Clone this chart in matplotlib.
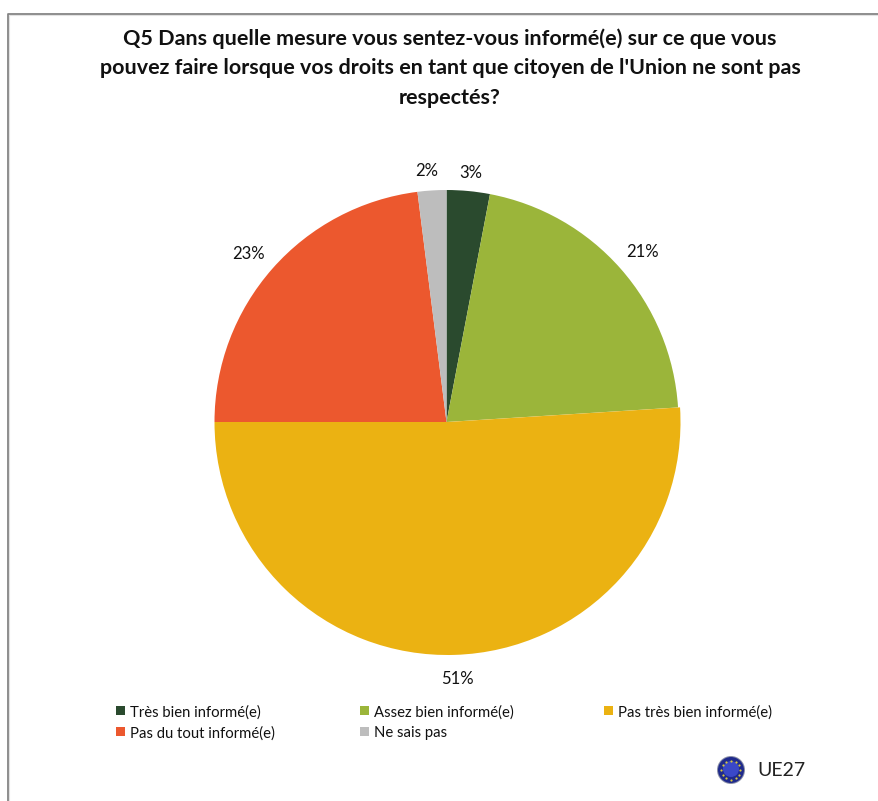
import matplotlib
matplotlib.use("Agg")
import matplotlib.pyplot as plt
from matplotlib.patches import Circle, Rectangle
import numpy as np

categories = ["Très bien informé(e)", "Assez bien informé(e)", "Pas très bien informé(e)",
              "Pas du tout informé(e)", "Ne sais pas"]
values = [3, 21, 51, 23, 2]
labels = ["3%", "21%", "51%", "23%", "2%"]
colors = ["#2A4A2E", "#9BB53A", "#EBB212", "#EC582E", "#BDBDBD"]
title = ["Q5 Dans quelle mesure vous sentez-vous informé(e) sur ce que vous",
         "pouvez faire lorsque vos droits en tant que citoyen de l'Union ne sont pas",
         "respectés?"]

W, H = 879, 801
plt.rcParams['font.family'] = ['Lato', 'DejaVu Sans']
fig = plt.figure(figsize=(W / 100, H / 100), dpi=100, facecolor="white")

# overlay in pixel coordinates (y down)
bg = fig.add_axes([0, 0, 1, 1])
bg.set_xlim(0, W)
bg.set_ylim(H, 0)
bg.axis("off")
bg.plot([9.2, 9.2, W], [H, 15.2, 15.2], color="#E2E2E2", lw=0.8, solid_capstyle="butt")
bg.plot([8, 8, W], [H, 14, 14], color="#858585", lw=1.3, solid_capstyle="butt")

for y, line in zip([39, 68.5, 97.5], title):
    bg.text(450, y, line, ha="center", va="center", fontsize=15.45, fontweight="bold",
            color="#111111")

# pie: the 51% slice sits one pixel further out than the others
cx, cy, R, half = 446.5, 422, 232, 240
ax = fig.add_axes([(cx - half) / W, 1 - (cy + half) / H, 2 * half / W, 2 * half / H])
wedges, _ = ax.pie(values, colors=colors, startangle=90, counterclock=False, radius=1,
                   wedgeprops=dict(linewidth=0))
wedges[2].set_center((1 / R, 0))
wedges[2].set_radius(233 / R)
ax.set_xlim(-half / R, half / R)
ax.set_ylim(-half / R, half / R)
ax.patch.set_alpha(0)

label_xy = [(470.5, 172.5), (643, 252), (457, 679), (249, 254), (427, 171)]
for (x, y), s in zip(label_xy, labels):
    bg.text(x, y, s, ha="center", va="center", fontsize=12, color="#111111")

# legend
legend_xy = [(116, 706), (360, 706), (604, 706), (116, 727), (360, 727)]
for (x, y), c, s in zip(legend_xy, colors, categories):
    bg.add_patch(Rectangle((x, y), 9, 9, facecolor=c, edgecolor="none"))
    bg.text(x + 14, y + 6.5, s, ha="left", va="center", fontsize=10.7, color="#111111")

# logo
ox, oy = 731, 770
bg.add_patch(Circle((ox, oy), 14, facecolor="#8A8FA8", edgecolor="none", zorder=3))
bg.add_patch(Circle((ox, oy), 13, facecolor="#1F2A8C", edgecolor="none", zorder=4))
bg.add_patch(Circle((ox, oy - 1), 8, facecolor="#3A48C8", edgecolor="none", zorder=5))
star_angles = np.deg2rad(np.arange(0, 360, 30))
bg.scatter(ox + 9.5 * np.cos(star_angles), oy + 9.5 * np.sin(star_angles), s=2.5,
           color="#D8C840", linewidths=0, zorder=6)
bg.text(757, 771, "UE27", ha="left", va="center", fontsize=14, color="#222222")

bg.set_zorder(3)
bg.patch.set_alpha(0)
fig.savefig("out.png", dpi=100)
